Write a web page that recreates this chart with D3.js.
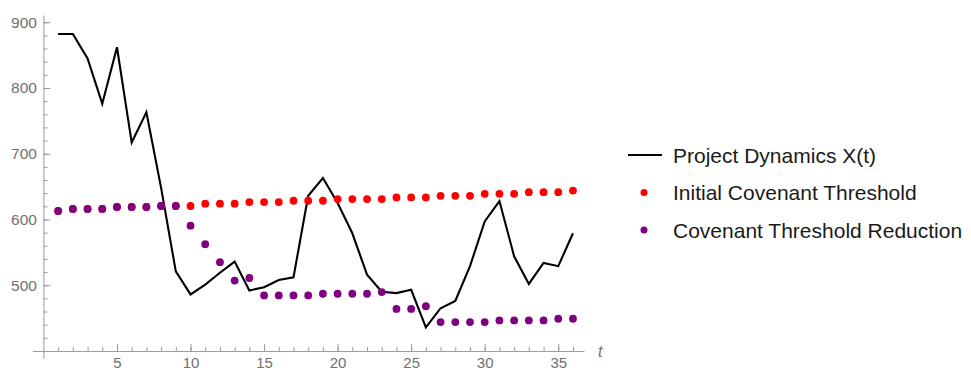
<!DOCTYPE html>
<html>
<head>
<meta charset="utf-8">
<script src="https://cdn.jsdelivr.net/npm/d3@7"></script>
<style>
  html, body { margin: 0; padding: 0; background: #fff; }
  svg { display: block; font-family: "Liberation Sans", Arial, Helvetica, sans-serif; }
</style>
</head>
<body>
<svg id="chart" width="971" height="372"></svg>
<script>
// Time periods and series
const periods = d3.range(1, 37);
const projectDynamics = [882, 882, 845, 776, 862, 717, 763, 648, 521, 486,
  501, 519, 536, 492, 497, 508, 512, 636, 663, 625,
  579, 516, 490, 488, 493, 436, 465, 476, 529, 597,
  628, 544, 502, 534, 529, 579];
const initialThreshold = [613, 616, 616, 616, 619, 619, 619, 620.5, 620.5, 620.5,
  624, 624, 624, 626.5, 626.5, 626.5, 628.5, 628.5, 628.5, 631,
  631, 631, 631, 633.5, 633.5, 633.5, 636, 636, 636, 639,
  639, 639, 641.5, 641.5, 641.5, 644];
const thresholdReduction = [613, 616, 616, 616, 619, 619, 619, 620.5, 620.5, 590.5,
  562.5, 535, 507, 511, 484.5, 484.5, 484.5, 484.5, 487, 487,
  487, 487, 489.5, 464, 464, 468, 444, 444, 444, 444,
  446.5, 446.5, 446.5, 446.5, 449, 449];
const xMajorTicks = [5, 10, 15, 20, 25, 30, 35];
const yMajorTicks = [500, 600, 700, 800, 900];
const legendLabels = ["Project Dynamics X(t)", "Initial Covenant Threshold", "Covenant Threshold Reduction"];

const svg = d3.select("#chart");

// Scales include a little padding beyond the origin and last period
const x = d3.scaleLinear().domain([-0.75, 36.75]).range([32.4, 584]);
const y = d3.scaleLinear().domain([389, 911]).range([358.2, 15]);

const axisColor = "#9a9a9a";
const labelColor = "#707070";

const xAxisY = y(400);
const yAxisX = x(0);

// x axis: minor ticks every period, longer major ticks every five
const gx = svg.append("g").attr("transform", `translate(0,${xAxisY})`);
gx.call(d3.axisBottom(x).tickValues(periods).tickSizeInner(-4).tickSizeOuter(0).tickFormat(""));
const gxMajor = svg.append("g").attr("transform", `translate(0,${xAxisY})`);
gxMajor.call(d3.axisBottom(x).tickValues(xMajorTicks).tickSizeInner(-7).tickSizeOuter(0).tickPadding(6.5).tickFormat(d3.format("d")));
gxMajor.select(".domain").remove();

// y axis: minor ticks every 20, major every 100
const yMinor = d3.range(400, 901, 20).filter(v => v > 400);
const gy = svg.append("g").attr("transform", `translate(${yAxisX},0)`);
gy.call(d3.axisLeft(y).tickValues(yMinor).tickSizeInner(-4).tickSizeOuter(0).tickFormat(""));
const gyMajor = svg.append("g").attr("transform", `translate(${yAxisX},0)`);
gyMajor.call(d3.axisLeft(y).tickValues(yMajorTicks).tickSizeInner(-7).tickSizeOuter(0).tickPadding(6.5).tickFormat(d3.format("d")));
gyMajor.select(".domain").remove();

svg.selectAll(".domain, .tick line").attr("stroke", axisColor).attr("stroke-width", 1);
svg.selectAll(".tick text").attr("fill", labelColor).attr("font-size", 15.5)
  .attr("font-family", "'Liberation Sans', Arial, sans-serif");
gxMajor.selectAll(".tick text").attr("font-size", 15);

// axis label
svg.append("text").attr("x", x(36.75) + 14).attr("y", xAxisY + 6)
  .attr("font-style", "italic").attr("font-size", 16).attr("fill", labelColor)
  .text("t");

// Project dynamics line
const line = d3.line().x((d, i) => x(periods[i])).y(d => y(d));
svg.append("path").datum(projectDynamics)
  .attr("fill", "none").attr("stroke", "#000").attr("stroke-width", 2.1)
  .attr("stroke-linejoin", "miter").attr("d", line);

// Threshold point series (reduction drawn on top)
const dotR = 3.9;
svg.append("g").selectAll("circle").data(initialThreshold).join("circle")
  .attr("cx", (d, i) => x(periods[i])).attr("cy", d => y(d)).attr("r", dotR)
  .attr("fill", "#ff0000");
svg.append("g").selectAll("circle").data(thresholdReduction).join("circle")
  .attr("cx", (d, i) => x(periods[i])).attr("cy", d => y(d)).attr("r", dotR)
  .attr("fill", "#800080");

// Legend
const legend = svg.append("g").attr("transform", "translate(628,155)");
const rowGap = 37.5;
legend.append("line").attr("x1", 0).attr("x2", 34).attr("y1", 0).attr("y2", 0)
  .attr("stroke", "#000").attr("stroke-width", 2);
legend.append("circle").attr("cx", 16).attr("cy", rowGap).attr("r", 3.5).attr("fill", "#ff0000");
legend.append("circle").attr("cx", 16).attr("cy", rowGap * 2).attr("r", 3.5).attr("fill", "#800080");
legend.selectAll("text.lbl").data(legendLabels).join("text")
  .attr("class", "lbl")
  .attr("x", 45).attr("y", (d, i) => i * rowGap + 7.5)
  .attr("font-size", 21).attr("fill", "#1a1a1a")
  .text(d => d);
</script>
</body>
</html>
